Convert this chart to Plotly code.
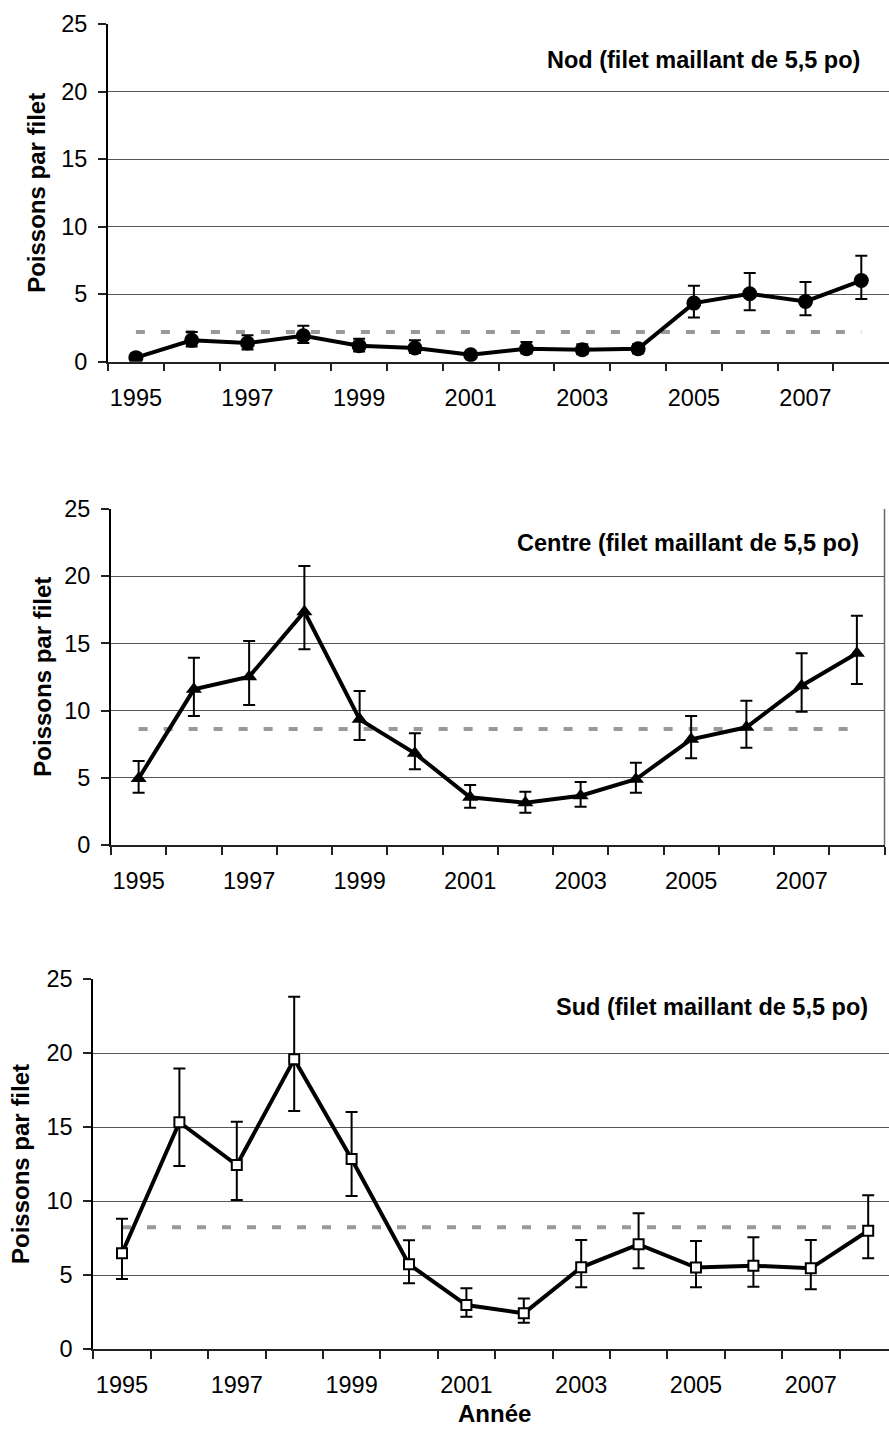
import plotly.graph_objects as go

# Survey years (one category per year)
years = list(range(1995, 2009))
year_labels = ["1995", "1997", "1999", "2001", "2003", "2005", "2007"]
label_years = [1995, 1997, 1999, 2001, 2003, 2005, 2007]

# Nod — catch per net (mean, upper and lower bounds)
nod_values = [0.3, 1.58, 1.38, 1.92, 1.18, 1.01, 0.52, 0.96, 0.89, 0.96, 4.34, 5.03, 4.46, 6.01]
nod_upper = [0.5, 2.2, 1.95, 2.66, 1.7, 1.58, 0.7, 1.46, 1.3, 1.3, 5.62, 6.56, 5.9, 7.84]
nod_lower = [0.15, 1.13, 0.9, 1.38, 0.76, 0.64, 0.35, 0.6, 0.55, 0.6, 3.28, 3.8, 3.43, 4.64]
nod_mean = 2.2

# Centre
centre_values = [4.95, 11.58, 12.52, 17.36, 9.35, 6.82, 3.55, 3.15, 3.67, 4.89, 7.86, 8.76, 11.85, 14.26]
centre_upper = [6.25, 13.94, 15.18, 20.76, 11.46, 8.31, 4.46, 3.97, 4.69, 6.12, 9.6, 10.74, 14.26, 17.06]
centre_lower = [3.89, 9.6, 10.42, 14.56, 7.81, 5.63, 2.78, 2.4, 2.85, 3.89, 6.45, 7.24, 9.92, 11.98]
centre_mean = 8.63

# Sud
sud_values = [6.47, 15.32, 12.43, 19.57, 12.84, 5.72, 2.97, 2.41, 5.52, 7.07, 5.5, 5.63, 5.45, 7.99]
sud_upper = [8.8, 18.96, 15.36, 23.8, 16.01, 7.34, 4.1, 3.42, 7.36, 9.17, 7.3, 7.55, 7.36, 10.39]
sud_lower = [4.73, 12.36, 10.07, 16.08, 10.34, 4.44, 2.18, 1.78, 4.17, 5.45, 4.17, 4.21, 4.03, 6.13]
sud_mean = 8.22

titles = ["Nod (filet maillant de 5,5 po)",
          "Centre (filet maillant de 5,5 po)",
          "Sud (filet maillant de 5,5 po)"]

W, H = 889, 1431
FONT = "Liberation Sans, Arial, sans-serif"
TICK_SIZE = 23.5

# Plot-area boxes in pixels: left, right, top, bottom (y=25 .. y=0)
boxes = [
    (108.0, 889.0, 24.0, 361.7),
    (111.0, 884.5, 509.0, 845.0),
    (93.3, 889.0, 979.0, 1349.0),
]
# px per category in each panel
cat_px = [55.8, 55.25, 57.4]
ytitle_x = [37, 41.7, 20]
title_right = [861.7, 860.7, 870.0]
title_cy = [60, 543, 1007]

series = [
    (nod_values, nod_upper, nod_lower, nod_mean,
     dict(symbol="circle", size=15, color="black")),
    (centre_values, centre_upper, centre_lower, centre_mean,
     dict(symbol="triangle-up", size=14, color="black")),
    (sud_values, sud_upper, sud_lower, sud_mean,
     dict(symbol="square", size=10, color="white", line=dict(color="black", width=2))),
]

fig = go.Figure()
annotations = []
shapes = []

for i, (vals, up, lo, mean, marker) in enumerate(series):
    n = "" if i == 0 else str(i + 1)
    xa, ya = "x" + n, "y" + n
    left, right, top, bottom = boxes[i]

    # long-term mean as dashed reference line
    fig.add_trace(go.Scatter(
        x=years, y=[mean] * len(years), xaxis=xa, yaxis=ya,
        mode="lines", line=dict(color="#999999", width=4, dash="9px,16px"),
        hoverinfo="skip", showlegend=False))

    fig.add_trace(go.Scatter(
        x=years, y=vals, xaxis=xa, yaxis=ya,
        mode="lines+markers",
        line=dict(color="black", width=4),
        marker=marker,
        error_y=dict(type="data", symmetric=False,
                     array=[u - v for u, v in zip(up, vals)],
                     arrayminus=[v - l for v, l in zip(vals, lo)],
                     color="black", thickness=2, width=6),
        showlegend=False))

    x_end = 1994.5 + (right - left) / cat_px[i]
    fig.layout["xaxis" + n] = dict(
        domain=[left / W, right / W], anchor=ya, range=[1994.5, x_end],
        automargin=False,
        tickmode="array", tickvals=label_years, ticktext=year_labels,
        ticks="outside", ticklen=8, tickcolor="rgba(0,0,0,0)",
        ticklabelstandoff=6,
        minor=dict(tick0=1994.5, dtick=1, ticks="outside", ticklen=8,
                   tickwidth=1.5, tickcolor="#222222", showgrid=False),
        showgrid=False, zeroline=False,
        showline=True, linecolor="#222222", linewidth=1.5,
        tickfont=dict(family=FONT, size=TICK_SIZE, color="black"),
        fixedrange=True)
    fig.layout["yaxis" + n] = dict(
        domain=[1 - bottom / H, 1 - top / H], anchor=xa, range=[0, 25],
        automargin=False,
        tickmode="linear", tick0=0, dtick=5,
        ticks="outside", ticklen=8, tickwidth=1.5, tickcolor="#222222",
        ticklabelstandoff=6,
        showgrid=True, gridcolor="#555555", gridwidth=1,
        zeroline=False, showline=True, linecolor="black", linewidth=2,
        tickfont=dict(family=FONT, size=TICK_SIZE, color="black"),
        fixedrange=True)

    annotations.append(dict(
        text="<b>Poissons par filet</b>", textangle=-90,
        xref="paper", yref="paper",
        x=ytitle_x[i] / W, y=1 - (top + bottom) / 2 / H,
        xanchor="center", yanchor="middle", showarrow=False,
        font=dict(family=FONT, size=24, color="black")))
    annotations.append(dict(
        text="<b>" + titles[i] + "</b>",
        xref="paper", yref="paper",
        x=title_right[i] / W, y=1 - title_cy[i] / H,
        xanchor="right", yanchor="middle", showarrow=False,
        font=dict(family=FONT, size=23.5, color="black")))

# right-hand frame of the middle panel
shapes.append(dict(type="line", xref="x2 domain", yref="y2 domain",
                   x0=1, x1=1, y0=0, y1=1,
                   line=dict(color="#666666", width=1.5)))

annotations.append(dict(
    text="<b>Année</b>", xref="paper", yref="paper",
    x=495 / W, y=1 - 1413 / H, xanchor="center", yanchor="middle",
    showarrow=False, font=dict(family=FONT, size=24, color="black")))

fig.update_layout(
    width=W, height=H, autosize=False,
    margin=dict(l=0, r=0, t=0, b=0, autoexpand=False),
    paper_bgcolor="white", plot_bgcolor="white",
    annotations=annotations, shapes=shapes,
    showlegend=False)

fig.write_html("out.html", config={"displayModeBar": False})
